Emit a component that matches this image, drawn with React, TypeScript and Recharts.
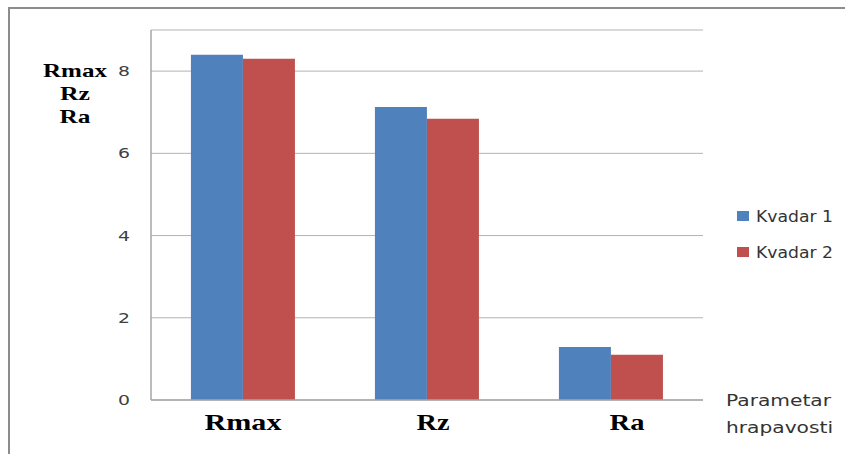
import React from "react";
import { BarChart, Bar, XAxis, YAxis, CartesianGrid, Legend } from "recharts";

// podaci očitani sa slike
const parametri = ["Rmax", "Rz", "Ra"];
const kvadar1 = [8.4, 7.13, 1.29];
const kvadar2 = [8.3, 6.84, 1.1];
const yTicks = [0, 2, 4, 6, 8];

const data = parametri.map((p, i) => ({
  name: p,
  k1: kvadar1[i],
  k2: kvadar2[i]
}));

const SERIF = "'Liberation Serif', 'Times New Roman', serif";
const SANS = "'DejaVu Sans', sans-serif";

// pomak i širina natpisa na x osi (natpisi u originalu nisu baš centrirani)
const xLabelShift: Record<string, number> = { Rmax: 0, Rz: 6, Ra: 16 };
const xLabelWidth: Record<string, number> = { Rmax: 77, Rz: 33, Ra: 35 };

const XTick = (props: any) => {
  const { x, y, payload } = props;
  const v = payload.value;
  return (
    <text
      x={x + (xLabelShift[v] || 0)}
      y={y + 28}
      textAnchor="middle"
      fontFamily={SERIF}
      fontWeight="bold"
      fontSize={23}
      fill="#000"
      textLength={xLabelWidth[v]}
      lengthAdjust="spacingAndGlyphs"
    >
      {v}
    </text>
  );
};

const YTick = (props: any) => {
  const { x, y, payload } = props;
  return (
    <text
      x={x}
      y={y + 5}
      textAnchor="end"
      fontFamily={SANS}
      fontSize={14}
      fill="#404040"
      textLength={12}
      lengthAdjust="spacingAndGlyphs"
    >
      {payload.value}
    </text>
  );
};

const LegendBox = (props: any) => {
  const { payload } = props;
  return (
    <svg width={110} height={60}>
      {(payload || []).map((item: any, i: number) => (
        <g key={item.value}>
          <rect x={2} y={11 + i * 36} width={12} height={10} fill={item.color} />
          <text
            x={21}
            y={21.5 + i * 36}
            fontFamily={SANS}
            fontSize={16}
            fill="#333"
            textLength={77}
            lengthAdjust="spacingAndGlyphs"
          >
            {item.value}
          </text>
        </g>
      ))}
    </svg>
  );
};

export default function App() {
  return (
    <div
      style={{
        position: "absolute",
        left: 0,
        top: 0,
        width: 845,
        height: 454,
        background: "#fff",
        overflow: "hidden"
      }}
    >
      <div
        style={{
          position: "absolute",
          left: 8,
          top: 7,
          width: 845,
          height: 460,
          borderTop: "2px solid #8c8c8c",
          borderLeft: "2px solid #8c8c8c"
        }}
      />
      <BarChart
        width={845}
        height={454}
        data={data}
        margin={{ top: 30, right: 142, bottom: 0, left: 0 }}
        barCategoryGap="21.7%"
        barGap={0}
        style={{ position: "absolute", left: 0, top: 0 }}
      >
        <CartesianGrid vertical={false} stroke="#b3b3b3" />
        <XAxis
          dataKey="name"
          height={54}
          axisLine={{ stroke: "#a6a6a6", strokeWidth: 1.5 }}
          tickLine={false}
          tickSize={0}
          tick={<XTick />}
          interval={0}
        />
        <YAxis
          width={151}
          domain={[0, 9]}
          ticks={yTicks}
          axisLine={{ stroke: "#a6a6a6", strokeWidth: 1.5 }}
          tickLine={false}
          tickSize={0}
          tickMargin={21}
          tick={<YTick />}
        />
        <Legend
          layout="horizontal"
          verticalAlign="middle"
          align="center"
          content={<LegendBox />}
          wrapperStyle={{ position: "absolute", left: 735, top: 200, width: 110 }}
        />
        <Bar dataKey="k1" name="Kvadar 1" fill="#4f81bd" isAnimationActive={false} />
        <Bar dataKey="k2" name="Kvadar 2" fill="#c0504d" isAnimationActive={false} />
      </BarChart>
      <svg
        width={845}
        height={454}
        style={{ position: "absolute", left: 0, top: 0, pointerEvents: "none" }}
      >
        <g fontFamily={SERIF} fontWeight="bold" fontSize={19} fill="#000" textAnchor="middle">
          <text x={75} y={76.5} textLength={64} lengthAdjust="spacingAndGlyphs">Rmax</text>
          <text x={75} y={100} textLength={30} lengthAdjust="spacingAndGlyphs">Rz</text>
          <text x={75} y={122.5} textLength={31} lengthAdjust="spacingAndGlyphs">Ra</text>
        </g>
        <g fontFamily={SANS} fontSize={16} fill="#333">
          <text x={726} y={406} textLength={105} lengthAdjust="spacingAndGlyphs">Parametar</text>
          <text x={726} y={433} textLength={107} lengthAdjust="spacingAndGlyphs">hrapavosti</text>
        </g>
      </svg>
    </div>
  );
}
